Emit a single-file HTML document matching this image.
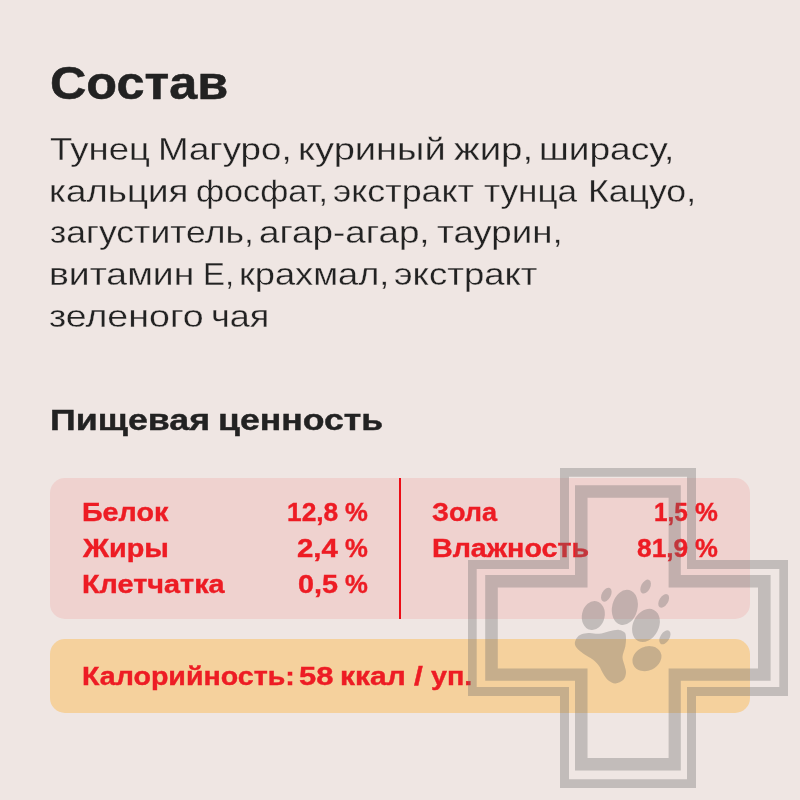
<!DOCTYPE html>
<html lang="ru">
<head>
<meta charset="utf-8">
<title>Состав</title>
<style>
html,body{margin:0;padding:0;}
body{width:800px;height:800px;overflow:hidden;background:#efe6e3;font-family:"Liberation Sans","DejaVu Sans",sans-serif;position:relative;}
.t{position:absolute;white-space:nowrap;transform-origin:0 0;line-height:1.2;margin:0;}
.h1{font-weight:bold;color:#222;-webkit-text-stroke:0.5px #222;}
.p{color:#222;-webkit-text-stroke:0.3px #efe6e3;}
.h2{font-weight:bold;color:#222;-webkit-text-stroke:0.4px #222;}
.r{font-weight:bold;color:#ed1c24;-webkit-text-stroke:0.4px #ed1c24;}
.tx{position:absolute;left:0;top:0;width:800px;height:800px;will-change:transform;}

.pink{position:absolute;left:50px;top:478px;width:700px;height:141px;border-radius:15px;background:#efd2cf;}
.div{position:absolute;left:399px;top:478px;width:2px;height:141px;background:#ec0c16;}
.orange{position:absolute;left:50px;top:639px;width:700px;height:74px;border-radius:15px;background:#f5d19d;}
svg{position:absolute;left:0;top:0;}
</style>
</head>
<body>
<div class="pink"></div>
<div class="div"></div>
<div class="orange"></div>
<div class="tx">
<div class="t h1" style="left:50.00px;top:56.00px;font-size:46px;transform:scaleX(1.0947)">Состав</div>
<div class="t p" style="left:50.00px;top:130.00px;font-size:32px;transform:scaleX(1.1403)">Тунец</div>
<div class="t p" style="left:158.00px;top:130.00px;font-size:32px;transform:scaleX(1.1455)">Магуро,</div>
<div class="t p" style="left:298.00px;top:130.00px;font-size:32px;transform:scaleX(1.1888)">куриный</div>
<div class="t p" style="left:454.00px;top:130.00px;font-size:32px;transform:scaleX(1.1988)">жир,</div>
<div class="t p" style="left:539.00px;top:130.00px;font-size:32px;transform:scaleX(1.1592)">ширасу,</div>
<div class="t p" style="left:49.00px;top:172.00px;font-size:32px;transform:scaleX(1.1483)">кальция</div>
<div class="t p" style="left:196.00px;top:172.00px;font-size:32px;transform:scaleX(1.0675)">фосфат,</div>
<div class="t p" style="left:333.00px;top:172.00px;font-size:32px;transform:scaleX(1.1195)">экстракт</div>
<div class="t p" style="left:484.00px;top:172.00px;font-size:32px;transform:scaleX(1.0983)">тунца</div>
<div class="t p" style="left:588.00px;top:172.00px;font-size:32px;transform:scaleX(1.1131)">Кацуо,</div>
<div class="t p" style="left:50.00px;top:213.00px;font-size:32px;transform:scaleX(1.1099)">загуститель,</div>
<div class="t p" style="left:259.00px;top:213.00px;font-size:32px;transform:scaleX(1.1506)">агар-агар,</div>
<div class="t p" style="left:437.00px;top:213.00px;font-size:32px;transform:scaleX(1.1462)">таурин,</div>
<div class="t p" style="left:49.00px;top:255.00px;font-size:32px;transform:scaleX(1.1668)">витамин</div>
<div class="t p" style="left:203.00px;top:255.00px;font-size:32px;transform:scaleX(1.0288)">Е,</div>
<div class="t p" style="left:239.00px;top:255.00px;font-size:32px;transform:scaleX(1.1311)">крахмал,</div>
<div class="t p" style="left:394.00px;top:255.00px;font-size:32px;transform:scaleX(1.1394)">экстракт</div>
<div class="t p" style="left:49.00px;top:297.00px;font-size:32px;transform:scaleX(1.1741)">зеленого</div>
<div class="t p" style="left:211.00px;top:297.00px;font-size:32px;transform:scaleX(1.1248)">чая</div>
<div class="t h2" style="left:50.00px;top:402.00px;font-size:29.3px;transform:scaleX(1.2209)">Пищевая</div>
<div class="t h2" style="left:218.00px;top:402.00px;font-size:29.3px;transform:scaleX(1.2161)">ценность</div>
<div class="t r" style="left:82.00px;top:497.00px;font-size:25.4px;transform:scaleX(1.1295)">Белок</div>
<div class="t r" style="left:287.00px;top:497.00px;font-size:25.4px;transform:scaleX(1.0361)">12,8</div>
<div class="t r" style="left:345.00px;top:497.00px;font-size:25.4px;transform:scaleX(1.0114)">%</div>
<div class="t r" style="left:83.00px;top:533.00px;font-size:25.4px;transform:scaleX(1.1341)">Жиры</div>
<div class="t r" style="left:297.00px;top:533.00px;font-size:25.4px;transform:scaleX(1.1576)">2,4</div>
<div class="t r" style="left:345.00px;top:533.00px;font-size:25.4px;transform:scaleX(1.0114)">%</div>
<div class="t r" style="left:82.00px;top:569.00px;font-size:25.4px;transform:scaleX(1.1353)">Клетчатка</div>
<div class="t r" style="left:298.00px;top:569.00px;font-size:25.4px;transform:scaleX(1.1327)">0,5</div>
<div class="t r" style="left:345.00px;top:569.00px;font-size:25.4px;transform:scaleX(1.0114)">%</div>
<div class="t r" style="left:432.00px;top:497.00px;font-size:25.4px;transform:scaleX(1.0655)">Зола</div>
<div class="t r" style="left:654.00px;top:497.00px;font-size:25.4px;transform:scaleX(0.9583)">1,5</div>
<div class="t r" style="left:695.00px;top:497.00px;font-size:25.4px;transform:scaleX(1.0114)">%</div>
<div class="t r" style="left:432.00px;top:533.00px;font-size:25.4px;transform:scaleX(1.1279)">Влажность</div>
<div class="t r" style="left:637.00px;top:533.00px;font-size:25.4px;transform:scaleX(1.0376)">81,9</div>
<div class="t r" style="left:695.00px;top:533.00px;font-size:25.4px;transform:scaleX(1.0114)">%</div>
<div class="t r" style="left:82.00px;top:661.00px;font-size:25.4px;transform:scaleX(1.1255)">Калорийность:</div>
<div class="t r" style="left:299.00px;top:661.00px;font-size:25.4px;transform:scaleX(1.2177)">58</div>
<div class="t r" style="left:340.00px;top:661.00px;font-size:25.4px;transform:scaleX(1.1796)">ккал</div>
<div class="t r" style="left:414.00px;top:661.00px;font-size:25.4px;transform:scaleX(1.2500)">/</div>
<div class="t r" style="left:431.00px;top:661.00px;font-size:25.4px;transform:scaleX(1.1324)">уп.</div>
</div>
<svg width="800" height="800" viewBox="0 0 800 800">
<g fill="#6e6e6e" opacity="0.34" fill-rule="evenodd">
<path d="M560 468H696V560H788V696H696V788H560V696H468V560H560Z M569 476.7V569H476.7V687H569V779.3H687V687H779.3V569H687V476.7Z"/>
<path d="M575 485.2H680.8V575H770.6V680.8H680.8V770.6H575V680.8H485.2V575H575Z M587.5 497.8V587.5H497.8V668.6H587.5V758H668.6V668.6H758V587.5H668.6V497.8Z"/>
<g transform="translate(560,570) scale(0.1625)">
<ellipse cx="205" cy="280" rx="70" ry="90" transform="rotate(12 205 280)"/>
<ellipse cx="399" cy="230" rx="78" ry="110" transform="rotate(14 399 230)"/>
<ellipse cx="529" cy="341" rx="79" ry="107" transform="rotate(27 529 341)"/>
<ellipse cx="535" cy="545" rx="92" ry="74" transform="rotate(-25 535 545)"/>
<ellipse cx="285" cy="152" rx="28" ry="46" transform="rotate(28 285 152)"/>
<ellipse cx="527" cy="102" rx="28" ry="46" transform="rotate(28 527 102)"/>
<ellipse cx="638" cy="190" rx="27" ry="46" transform="rotate(32 638 190)"/>
<ellipse cx="645" cy="414" rx="28" ry="48" transform="rotate(32 645 415)"/>
<path d="M91.2 449.2C91.8 437.6 99.5 421.4 108.0 412.0C116.5 402.6 129.4 396.8 142.3 392.7C155.2 388.6 169.2 387.3 185.4 387.3C201.6 387.3 219.5 394.5 239.2 392.7C258.9 390.9 283.2 380.5 303.8 376.5C324.4 372.5 347.3 367.1 363.0 368.5C378.7 369.9 390.8 376.5 398.0 384.6C405.2 392.7 405.5 402.5 406.1 416.9C406.7 431.3 405.4 451.1 401.8 470.8C398.2 490.6 385.2 515.7 384.6 535.4C384.0 555.1 394.4 573.1 398.0 589.2C401.6 605.4 407.4 617.9 406.1 632.3C404.8 646.6 400.8 664.3 390.0 675.3C379.2 686.3 356.8 697.6 341.5 698.5C326.2 699.4 311.0 690.8 298.4 680.7C285.8 670.6 276.0 653.0 266.1 637.7C256.2 622.5 250.0 603.6 239.2 589.2C228.4 574.8 217.7 564.1 201.5 551.5C185.3 538.9 158.5 525.5 142.3 513.8C126.2 502.1 113.1 492.3 104.6 481.5C96.1 470.7 90.6 460.8 91.2 449.2Z"/>
</g>
</g>
</svg>
</body>
</html>
